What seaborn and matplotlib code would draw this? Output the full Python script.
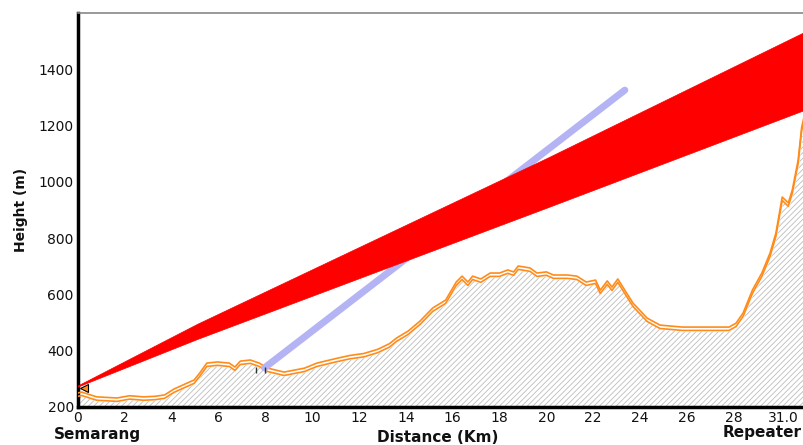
import numpy as np
import pandas as pd
import matplotlib
matplotlib.use("Agg")
import matplotlib.pyplot as plt
import seaborn as sns

# terrain profile (top of ground line), distance in km, height in m
dist_km = [0.0, 0.15, 0.8, 1.67, 2.2, 2.8, 3.3, 3.7, 4.1, 4.66, 4.96, 5.2, 5.5,
           5.95, 6.46, 6.7, 6.93, 7.36, 7.74, 8.1, 8.8, 9.67, 10.2, 11.0, 11.6,
           12.2, 12.8, 13.3, 13.6, 14.1, 14.6, 15.15, 15.7, 16.15, 16.4, 16.65,
           16.85, 17.2, 17.6, 18.0, 18.35, 18.6, 18.8, 19.3, 19.6, 20.0, 20.3,
           20.9, 21.3, 21.7, 22.1, 22.3, 22.6, 22.8, 23.05, 23.35, 23.7, 24.3,
           24.85, 25.8, 26.9, 27.8, 28.1, 28.4, 28.8, 29.2, 29.55, 29.8, 30.07,
           30.33, 30.5, 30.75, 30.9, 31.0]
terrain_m = [250, 253, 236, 232, 240, 236, 238, 243, 264, 285, 296, 321, 356,
             360, 356, 342, 363, 367, 356, 338, 324, 338, 356, 372, 383,
             390, 405, 425, 445, 470, 505, 552, 580, 644, 665, 644,
             665, 655, 676, 676, 687, 680, 701, 694, 676, 680, 669,
             669, 665, 644, 651, 615, 648, 626, 655, 615, 569, 516,
             491, 484, 484, 484, 498, 534, 616, 676, 747, 818, 946,
             925, 971, 1077, 1194, 1230]

# fresnel / line-of-sight wedge edges
wedge_km = [0.0, 5.1, 20.1, 31.0]
wedge_top = [277, 496, 1088, 1532]
wedge_bottom = [273, 442, 911, 1255]

# second path (light blue)
path_km = [7.96, 23.35]
path_m = [339, 1326]

# obstacle markers
marker_km = [7.6, 8.0]

xtick_pos = [0, 2, 4, 6, 8, 10, 12, 14, 16, 18, 20, 22, 24, 26, 28, 30.1]
xtick_lab = ["0", "2", "4", "6", "8", "10", "12", "14", "16", "18", "20", "22",
             "24", "26", "28", "31.0"]
ytick_pos = [200, 400, 600, 800, 1000, 1200, 1400]

sns.set_theme(style="white")
plt.rcParams['font.family'] = ['DejaVu Sans']
plt.rcParams['hatch.linewidth'] = 0.6

fig = plt.figure(figsize=(8.04, 4.45), dpi=100)
ax = fig.add_axes([78 / 804, 38 / 445, 1 - 78 / 804, 394 / 445])

terrain = pd.DataFrame({"km": dist_km, "h": terrain_m})
terrain["low"] = terrain["h"] - 12

# hatched ground
ax.fill_between(terrain["km"], 200, terrain["low"], facecolor="white",
                edgecolor="#bdbdbd", hatch="//////", linewidth=0, zorder=1)
ax.fill_between(terrain["km"], terrain["low"], terrain["h"], color="white", zorder=2)
sns.lineplot(data=terrain, x="km", y="h", color="#ff8c1a", lw=1.2, ax=ax, zorder=3)
sns.lineplot(data=terrain, x="km", y="low", color="#ff8c1a", lw=1.2, ax=ax, zorder=3)

# blue path
sns.lineplot(x=path_km, y=path_m, color="#b4b4f4", lw=5, ax=ax, zorder=4,
             solid_capstyle="round")

# red wedge
ax.fill_between(wedge_km, wedge_bottom, wedge_top, color="#ff0000", lw=0.5, zorder=5)

ax.plot([0.25], [268], marker="<", ms=6, color="#ff8c1a", mec="black", mew=0.8, zorder=6)
ax.vlines(marker_km, 321, 342, color="#333333", lw=1, zorder=6)

ax.set_xlim(0, 31)
ax.set_ylim(200, 1600)
ax.set_xticks(xtick_pos)
ax.set_xticklabels(xtick_lab)
ax.set_yticks(ytick_pos)
ax.tick_params(axis="both", direction="in", length=5, width=1, color="#666666",
               labelsize=10, labelcolor="#111111", pad=3)
ax.set_xlabel("")
ax.set_ylabel("")

for side in ["left", "bottom"]:
    ax.spines[side].set_color("black")
    ax.spines[side].set_linewidth(2.5)
ax.spines["top"].set_color("#888888")
ax.spines["top"].set_linewidth(1.2)
ax.spines["right"].set_visible(False)

fig.text(21 / 804, 1 - 210 / 445, "Height (m)", rotation=90, ha="center",
         va="center", fontsize=10, fontweight="bold", color="#111111")
fig.text(438 / 804, 1 - 437 / 445, "Distance (Km)", ha="center", va="center",
         fontsize=11, fontweight="bold", color="#111111")
fig.text(97 / 804, 1 - 435 / 445, "Semarang", ha="center", va="center",
         fontsize=11, fontweight="bold", color="#111111")
fig.text(802 / 804, 1 - 432 / 445, "Repeater", ha="right", va="center",
         fontsize=11, fontweight="bold", color="#111111")

fig.savefig("out.png", dpi=100)
